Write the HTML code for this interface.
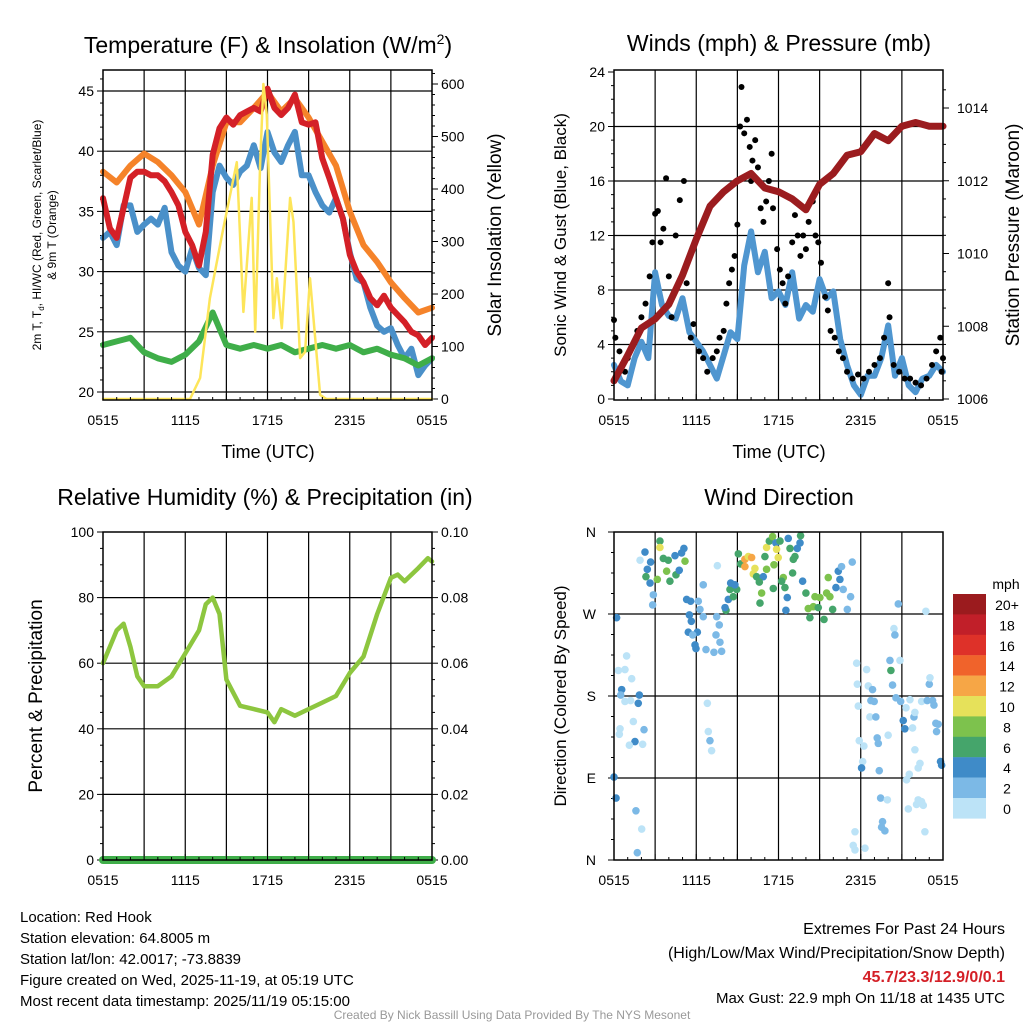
<!DOCTYPE html>
<html><head><meta charset="utf-8"><style>
html,body{margin:0;padding:0;background:#fff;}
svg{display:block;font-family:"Liberation Sans",sans-serif;}
</style></head><body>
<svg id="fig" width="1024" height="1024" viewBox="0 0 1024 1024"></svg>
<script>
// ---- data ----
const hours = [0,1,2,3,4,5,6,7,8,9,10,11,12,13,14,15,16,17,18,19,20,21,22,23,24];
const hoursHalf = [0,0.5,1,1.5,2,2.5,3,3.5,4,4.5,5,5.5,6,6.5,7,7.5,8,8.5,9,9.5,10,10.5,11,11.5,12,12.5,13,13.5,14,14.5,15,15.5,16,16.5,17,17.5,18,18.5,19,19.5,20,20.5,21,21.5,22,22.5,23,23.5,24];
const tempRed = [36.1,33.6,32.8,35.3,37.8,38.3,38.3,38.0,38.0,37.5,36.6,35.5,33.3,32.2,30.5,33.3,39.7,41.9,42.8,42.2,43.0,43.3,43.6,43.3,45.2,43.6,43.0,43.6,44.7,42.4,42.2,42.4,39.4,37.8,36.1,34.4,31.4,30.0,29.1,27.8,27.2,28.0,27.0,26.4,25.8,25.0,24.7,23.9,24.5];
const tempBlue = [32.8,33.3,32.2,35.5,35.5,33.3,33.9,34.4,33.9,35.3,31.6,30.5,30.0,31.9,30.3,29.7,36.6,38.8,37.8,37.2,38.3,38.8,40.5,38.6,41.6,39.9,39.1,40.5,41.6,38.0,38.0,36.6,35.5,34.9,36.1,34.4,31.6,29.4,29.1,27.0,25.5,25.0,25.3,23.9,22.8,23.6,21.4,22.2,22.8];
const tempOrange = [38.3,37.4,38.8,39.8,39.1,38.0,36.6,33.9,38.8,42.4,42.4,43.6,44.9,43.3,44.4,42.8,40.8,38.8,35.0,32.2,30.8,29.1,27.8,26.6,27.0];
const dewGreen = [23.9,24.2,24.5,23.3,22.8,22.5,23.1,24.2,26.6,23.9,23.6,23.9,23.6,23.9,23.3,23.6,23.9,23.6,23.9,23.3,23.6,23.1,22.8,22.2,22.8];
const solarHours = [0,6.35,7.08,7.8,8.78,9.76,10.24,10.85,11.1,11.46,11.7,11.95,12.43,12.68,13.04,13.65,13.9,14.38,14.74,15.1,15.84,16.3,24];
const solarValues = [0,0,40,192,326,451,166,383,128,446,600,541,154,230,135,383,337,78,90,230,8,0,0];
const windMean = [2.5,1.3,1.0,3.0,4.2,3.0,9.3,6.9,6.1,5.9,7.4,4.9,4.2,3.5,2.5,1.5,3.2,4.9,4.4,9.8,12.3,9.3,10.8,7.4,7.9,6.9,9.3,5.9,6.9,6.4,8.8,7.4,7.9,4.4,2.5,1.0,0.3,1.7,1.7,3.0,5.4,1.7,3.0,1.0,0.5,1.5,1.7,2.5,2.0];
const pressure = [1006.5,1007.2,1007.95,1008.2,1008.6,1009.4,1010.4,1011.3,1011.7,1012.0,1012.2,1011.8,1011.7,1011.5,1011.2,1011.9,1012.2,1012.7,1012.8,1013.3,1013.1,1013.5,1013.6,1013.5,1013.5];
const gustHours = [0.0,0.1,0.4,0.6,0.8,1.0,1.3,1.7,2.0,2.3,2.6,2.8,3.0,3.2,3.4,3.6,3.8,4.0,4.2,4.5,4.8,5.1,5.3,5.6,5.8,6.2,6.5,6.8,7.2,7.5,7.7,8.0,8.2,8.4,8.6,8.8,9.0,9.2,9.3,9.5,9.7,9.9,10.1,10.3,10.0,10.5,10.7,10.9,11.1,11.3,11.5,11.6,11.9,12.1,12.3,12.5,12.7,13.0,13.2,13.4,13.6,13.8,14.0,14.2,14.5,14.7,14.9,15.1,15.4,15.6,15.8,16.1,16.4,16.7,17.0,17.4,17.8,18.2,18.6,19.0,19.4,19.7,20.0,20.1,20.4,20.8,21.2,21.6,22.0,22.4,22.8,23.2,23.5,23.8,24.0,23.9];
const gustValues = [5.8,4.5,3.5,2.5,2.0,3.0,3.8,5.0,6.0,7.0,9.0,11.5,13.6,13.8,11.5,12.5,16.2,9.0,6.0,12.0,14.6,16.0,8.5,4.5,5.5,3.5,3.0,2.0,3.0,3.5,4.5,5.0,7.0,8.5,9.5,10.5,12.8,20.0,22.9,19.5,20.5,18.5,17.5,19.0,16.0,17.0,14.0,13.0,14.5,16.0,18.0,14.0,11.0,9.5,8.5,7.0,9.0,11.5,13.5,12.0,10.5,12.0,11.0,13.0,14.5,12.0,11.5,10.0,7.5,6.5,5.0,4.5,3.5,3.0,2.0,1.5,1.8,1.5,2.0,2.5,3.0,4.5,8.5,6.0,2.5,2.0,1.5,1.5,1.2,1.0,1.5,2.5,3.5,4.5,3.0,2.0];
const rhHours = [0,0.5,1,1.5,2,2.5,3,4,5,6,7,7.5,8,8.5,9,10,11,12,12.5,13,14,15,16,17,18,19,20,21,21.5,22,23,23.7,24];
const rhValues = [60,65,70,72,65,56,53,53,56,63,70,78,80,75,55,47,46,45,42,46,44,46,48,50,57,62,75,86,87,85,89,92,91];
const precipHours = [0,24];
const precipValues = [0,0];
const dirHours = [3.35,3.35,2.26,1.9,2.67,3.6,3.96,4.45,4.93,5.1,5.18,2.43,2.33,2.63,3.16,3.84,4.08,4.52,4.76,2.87,2.82,7.54,6.51,5.3,5.59,6.15,6.27,5.5,6.51,5.64,5.42,6.08,5.74,5.91,5.98,6.71,7.29,7.85,7.73,7.44,7.68,7.49,8.17,8.1,8.34,8.7,8.46,8.95,8.51,8.82,9.07,9.24,9.55,9.8,10.04,9.55,10.28,10.16,10.4,10.89,10.6,10.77,10.65,11.01,11.13,11.33,11.57,11.81,12.11,11.86,11.98,11.67,11.13,11.62,12.35,12.23,12.47,12.71,12.84,13.08,13.2,13.03,12.64,12.54,13.37,13.57,13.61,13.76,14.0,14.17,14.29,14.54,14.66,15.02,14.9,15.32,15.51,15.75,15.95,15.63,16.19,16.48,16.36,16.6,16.72,17.02,17.26,17.38,0.19,0.92,0.32,0.8,1.29,0.56,0.49,0.8,1.21,1.85,1.77,1.41,0.44,0.39,2.19,1.53,1.12,2.09,0.0,0.15,1.6,2.02,1.7,6.81,6.88,7.0,7.12,17.7,18.43,17.75,18.55,18.86,17.82,18.74,18.98,18.67,19.1,17.89,18.23,19.2,19.28,20.0,18.14,18.06,19.35,19.45,19.94,19.59,19.52,19.76,17.58,17.45,17.58,18.31,20.74,22.75,20.42,20.49,20.13,20.86,20.2,20.32,20.57,20.91,21.3,21.59,21.1,21.88,21.95,21.22,21.78,22.44,22.85,23.24,23.34,23.0,23.05,23.48,23.65,23.53,21.95,22.32,22.19,21.54,21.34,23.82,23.9,22.19,22.44,22.07,22.56,21.47,22.68];
const dirDegrees = [350,343,338,329,327,331,329,334,337,342,328,319,311,304,308,317,306,313,318,291,280,323,302,286,284,284,275,269,267,262,250,250,247,236,232,231,228,229,239,247,258,267,274,277,286,289,297,297,304,302,336,325,330,333,332,322,320,314,311,311,305,293,282,333,343,350,355,348,350,341,332,324,319,298,310,306,299,353,342,330,333,315,288,274,342,348,356,306,293,276,266,278,289,288,277,264,293,289,275,310,299,308,317,322,297,275,289,327,266,224,208,209,199,187,181,174,175,181,172,152,144,138,143,130,126,127,91,68,54,34,8,172,141,131,120,216,209,193,191,187,169,175,174,157,157,131,125,134,128,137,108,101,98,68,66,42,36,32,31,16,11,13,281,273,254,247,219,219,208,192,178,174,167,176,153,157,162,144,145,174,175,175,170,193,200,150,149,141,121,106,101,94,88,108,104,66,64,61,60,56,31];
const dirSpeeds = [6,10,4,0,4,6,6,4,4,4,8,4,6,4,8,8,6,6,4,2,2,0,2,4,4,2,2,4,2,4,4,4,2,4,4,2,2,2,2,2,2,2,6,4,4,6,6,6,4,4,6,6,12,10,12,12,10,10,6,4,6,8,6,6,10,6,8,4,6,10,10,8,8,6,8,6,6,4,6,6,6,6,4,4,4,4,6,4,6,8,6,8,8,8,6,6,8,8,6,8,4,4,4,2,2,2,2,2,4,0,0,0,0,4,2,0,0,4,4,0,0,0,2,4,0,0,4,4,2,0,2,0,0,2,0,0,0,0,0,2,0,2,2,0,2,0,0,2,2,0,0,4,2,2,0,2,2,2,0,0,0,0,2,0,0,2,2,0,6,2,2,2,0,0,4,2,0,4,0,0,2,2,2,2,0,2,2,2,0,0,0,0,0,4,4,0,0,0,0,0,0];
const colorLabels = ["20+","18","16","14","12","10","8","6","4","2","0"];
const colorBins = ["#9b1b1e","#c11f29","#de3129","#f0632b","#f6a646","#e6e15a","#7dc24d","#45a56b","#3f8bc8","#7cb9e6","#bce3f7"];
const timeTickLabels = ["0515","1115","1715","2315","0515"];

// ---- helpers ----
const NS = "http://www.w3.org/2000/svg";
const svg = document.getElementById("fig");
function mk(tag, attrs, parent) {
  const e = document.createElementNS(NS, tag);
  for (const k in attrs) e.setAttribute(k, attrs[k]);
  (parent || svg).appendChild(e);
  return e;
}
function txt(x, y, s, size, anchor, extra) {
  const t = mk("text", Object.assign({x: x, y: y, "font-size": size, "text-anchor": anchor || "middle", fill: "#000"}, extra || {}));
  t.textContent = s;
  return t;
}
function pts(xs, ys, fx, fy) { return xs.map((h, i) => fx(h).toFixed(1) + "," + fy(ys[i]).toFixed(1)).join(" "); }

function panel(X0, X1, Y0, Y1, name) {
  const g = mk("g", {});
  
  
  return g;
}
function hx(X0, X1) { return h => X0 + h * (X1 - X0) / 24; }
function grid(g, X0, X1, Y0, Y1, hLines) {
  for (let h = 3; h < 24; h += 3) {
    const x = X0 + h * (X1 - X0) / 24;
    const l = mk("line", {x1: x, x2: x, y1: Y0, y2: Y1, stroke: "#000", "stroke-width": 1.2}, g);
    
    
  }
  hLines.forEach(y => {
    const l = mk("line", {x1: X0, x2: X1, y1: y, y2: y, stroke: "#000", "stroke-width": 1.2}, g);
    
    
  });
}
function frame(g, X0, X1, Y0, Y1) {
  const r = mk("rect", {x: X0, y: Y0, width: X1 - X0, height: Y1 - Y0, fill: "none", stroke: "#000", "stroke-width": 1.5}, g);
  
  
  for (let i = 0; i <= 24; i++) {
    const x = X0 + i * (X1 - X0) / 24;
    const len = i % 3 === 0 ? 6 : 3;
    mk("line", {x1: x, x2: x, y1: Y1, y2: Y1 - len, stroke: "#000", "stroke-width": 1}, g);
  }
  timeTickLabels.forEach((s, i) => {
    const t = txt(X0 + i * 6 * (X1 - X0) / 24, Y1 + 25, s, 14);
    
    
  });
}
function poly(g, p, color, w, name) {
  const e = mk("polyline", {points: p, fill: "none", stroke: color, "stroke-width": w, "stroke-linejoin": "round", "stroke-linecap": "round"}, g);
  
  
  return e;
}

// ===== Panel 1 =====
{
  const X0 = 103, X1 = 432, Y0 = 70, Y1 = 400;
  const fx = hx(X0, X1);
  const tY = t => 91 + (45 - t) * 12.04;
  const sY = w => 399 - w * 0.525;
  const g = panel(X0, X1, Y0, Y1, "temperature-panel");
  grid(g, X0, X1, Y0, Y1, [20, 25, 30, 35, 40, 45].map(tY));
  for (let t = 20; t <= 46; t++) mk("line", {x1: X0, x2: X0 - (t % 5 ? 3 : 6), y1: tY(t), y2: tY(t), stroke: "#000"}, g);
  for (let w = 0; w <= 620; w += 20) mk("line", {x1: X1, x2: X1 + (w % 100 ? 3 : 6), y1: sY(w), y2: sY(w), stroke: "#000"}, g);
  [20, 25, 30, 35, 40, 45].forEach(t => { const e = txt(X0 - 9, tY(t) + 5, String(t), 14, "end");   });
  [0, 100, 200, 300, 400, 500, 600].forEach(w => { const e = txt(X1 + 9, sY(w) + 5, String(w), 14, "start");   });
  poly(g, pts(hours, tempOrange, fx, tY), "#f5832a", 6, "temp-9m-orange");
  poly(g, pts(hoursHalf, tempBlue, fx, tY), "#4a90c9", 6, "windchill-blue");
  poly(g, pts(hoursHalf, tempRed, fx, tY), "#d42027", 6, "temp-2m-red");
  poly(g, pts(hours, dewGreen, fx, tY), "#3fae49", 6, "dewpoint-green");
  poly(g, pts(solarHours, solarValues, fx, sY), "#fde55a", 2.5, "solar-insolation-yellow");
  frame(g, X0, X1, Y0, Y1);
  const t = txt(268, 53, "Temperature (F) & Insolation (W/m", 23);
  const sup = mk("tspan", {"font-size": 14, dy: -9}, t); sup.textContent = "2";
  const cl = mk("tspan", {dy: 9}, t); cl.textContent = ")";
  
  
  const xl = txt(268, 458, "Time (UTC)", 18);
  
  
  const yl = txt(0, 0, "2m T, T", 12, "middle", {transform: "translate(41,235) rotate(-90)"});
  const sb = mk("tspan", {"font-size": 8, dy: 3}, yl); sb.textContent = "d";
  const rest = mk("tspan", {dy: -3}, yl); rest.textContent = ", HI/WC (Red, Green, Scarlet/Blue)";
  
  
  const yl2 = txt(0, 0, "& 9m T (Orange)", 12, "middle", {transform: "translate(56,235) rotate(-90)"});
  
  
  const yr = txt(0, 0, "Solar Insolation (Yellow)", 19, "middle", {transform: "translate(501,235) rotate(-90)"});
  
  
}

// ===== Panel 2 =====
{
  const X0 = 614, X1 = 943, Y0 = 70, Y1 = 400;
  const fx = hx(X0, X1);
  const wY = m => 399 - m * 13.625;
  const pY = p => 399 - (p - 1006) * 36.375;
  const g = panel(X0, X1, Y0, Y1, "wind-panel");
  grid(g, X0, X1, Y0, Y1, [4, 8, 12, 16, 20].map(wY));
  for (let m = 0; m <= 24; m++) mk("line", {x1: X0, x2: X0 - (m % 4 ? 3 : 6), y1: wY(m), y2: wY(m), stroke: "#000"}, g);
  for (let p = 1006; p <= 1014.6; p += 0.5) mk("line", {x1: X1, x2: X1 + ((p * 2) % 4 ? 3 : 6), y1: pY(p), y2: pY(p), stroke: "#000"}, g);
  [0, 4, 8, 12, 16, 20, 24].forEach(m => { const e = txt(X0 - 9, wY(m) + 5, String(m), 14, "end");   });
  [1006, 1008, 1010, 1012, 1014].forEach(p => { const e = txt(X1 + 14, pY(p) + 5, String(p), 14, "start");   });
  poly(g, pts(hoursHalf, windMean, fx, wY), "#4f96d0", 6, "sonic-wind-blue");
  gustHours.forEach((h, i) => {
    const c = mk("circle", {cx: fx(h), cy: wY(gustValues[i]), r: 3, fill: "#000"}, g);
    
    
  });
  poly(g, pts(hours, pressure, fx, pY), "#9b1c1f", 7, "station-pressure-maroon");
  frame(g, X0, X1, Y0, Y1);
  const t = txt(779, 51, "Winds (mph) & Pressure (mb)", 23);
  
  
  const xl = txt(779, 458, "Time (UTC)", 18);
  
  
  const yl = txt(0, 0, "Sonic Wind & Gust (Blue, Black)", 17, "middle", {transform: "translate(566,235) rotate(-90)"});
  
  
  const yr = txt(0, 0, "Station Pressure (Maroon)", 19, "middle", {transform: "translate(1019,235) rotate(-90)"});
  
  
}

// ===== Panel 3 =====
{
  const X0 = 103, X1 = 432, Y0 = 532, Y1 = 860;
  const fx = hx(X0, X1);
  const rY = r => 860 - r * 3.28;
  const pY = p => 860 - p * 3280;
  const g = panel(X0, X1, Y0, Y1, "humidity-panel");
  grid(g, X0, X1, Y0, Y1, [20, 40, 60, 80].map(rY));
  for (let r = 0; r <= 100; r += 5) mk("line", {x1: X0, x2: X0 - (r % 20 ? 3 : 6), y1: rY(r), y2: rY(r), stroke: "#000"}, g);
  for (let r = 0; r <= 100; r += 5) mk("line", {x1: X1, x2: X1 + (r % 20 ? 3 : 6), y1: rY(r), y2: rY(r), stroke: "#000"}, g);
  [0, 20, 40, 60, 80, 100].forEach(r => { const e = txt(X0 - 9, rY(r) + 5, String(r), 14, "end");   });
  ["0.00", "0.02", "0.04", "0.06", "0.08", "0.10"].forEach(s => { const e = txt(X1 + 9, pY(parseFloat(s)) + 5, s, 14, "start");   });
  poly(g, pts(rhHours, rhValues, fx, rY), "#8dc63f", 4.5, "relative-humidity-line");
  poly(g, pts(precipHours, precipValues, fx, pY), "#3fae49", 8, "precipitation-line");
  frame(g, X0, X1, Y0, Y1);
  const t = txt(265, 505, "Relative Humidity (%) & Precipitation (in)", 23);
  
  
  const yl = txt(0, 0, "Percent & Precipitation", 19, "middle", {transform: "translate(42,696) rotate(-90)"});
  
  
}

// ===== Panel 4 =====
{
  const X0 = 614, X1 = 943, Y0 = 532, Y1 = 860;
  const fx = hx(X0, X1);
  const dY = d => 860 - d * 328 / 360;
  const g = panel(X0, X1, Y0, Y1, "wind-direction-panel");
  grid(g, X0, X1, Y0, Y1, [90, 180, 270].map(dY));
  for (let d = 0; d <= 360; d += 22.5) mk("line", {x1: X0, x2: X0 - (d % 90 ? 3 : 6), y1: dY(d), y2: dY(d), stroke: "#000"}, g);
  [["N", 360], ["W", 270], ["S", 180], ["E", 90], ["N", 0]].forEach(a => { const e = txt(X0 - 18, dY(a[1]) + 5, a[0], 14, "end");   });
  dirHours.forEach((h, i) => {
    const bin = Math.min(10, Math.floor(dirSpeeds[i] / 2));
    const c = mk("circle", {cx: fx(h), cy: dY(dirDegrees[i]), r: 3.8, fill: colorBins[10 - bin]}, g);
    
    
  });
  frame(g, X0, X1, Y0, Y1);
  const t = txt(779, 505, "Wind Direction", 23);
  
  
  const yl = txt(0, 0, "Direction (Colored By Speed)", 17, "middle", {transform: "translate(566,696) rotate(-90)"});
  
  
  const u = txt(1006, 589, "mph", 14);
  
  
  colorLabels.forEach((s, i) => {
    const r = mk("rect", {x: 953, y: 594 + i * 20.4, width: 33, height: 20.6, fill: colorBins[i]}, g);
    
    
    const l = txt(1007, 594 + i * 20.4 + 16, s, 14);
    
    
  });
}

// ===== Footer =====
["Location: Red Hook", "Station elevation: 64.8005 m", "Station lat/lon: 42.0017; -73.8839", "Figure created on Wed, 2025-11-19, at 05:19 UTC", "Most recent data timestamp: 2025/11/19 05:15:00"].forEach((s, i) => {
  const e = txt(20, 922 + i * 21, s, 15, "start");
  
  
});
{
  const a = txt(1005, 934, "Extremes For Past 24 Hours", 16, "end");
  
  
  const b = txt(1005, 958, "(High/Low/Max Wind/Precipitation/Snow Depth)", 16, "end");
  
  
  const c = txt(1005, 982, "45.7/23.3/12.9/0/0.1", 16, "end", {fill: "#d42027", "font-weight": "bold"});
  
  
  const d = txt(1005, 1003, "Max Gust: 22.9 mph On 11/18 at 1435 UTC", 15, "end");
  
  
  const e = txt(512, 1019, "Created By Nick Bassill Using Data Provided By The NYS Mesonet", 12, "middle", {fill: "#999"});
  
  
}
</script>
</body></html>
